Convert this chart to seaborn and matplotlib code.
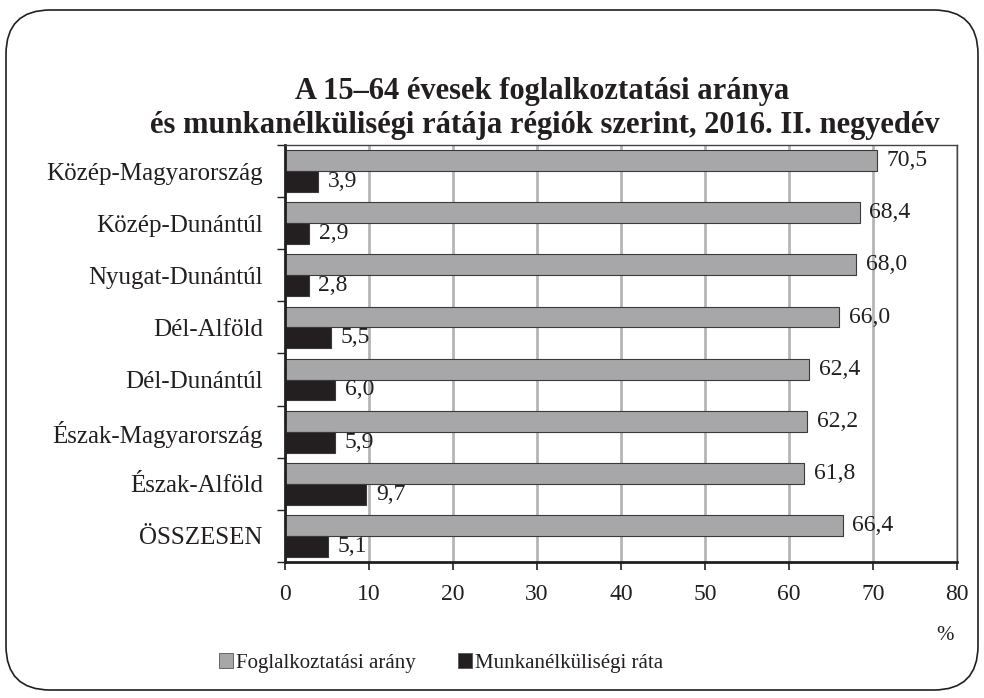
import pandas as pd
import matplotlib.pyplot as plt
import seaborn as sns
from matplotlib.patches import FancyBboxPatch, Patch

# adatok
regions = ["Közép-Magyarország", "Közép-Dunántúl", "Nyugat-Dunántúl", "Dél-Alföld",
           "Dél-Dunántúl", "Észak-Magyarország", "Észak-Alföld", "ÖSSZESEN"]
employment = [70.5, 68.4, 68.0, 66.0, 62.4, 62.2, 61.8, 66.4]
unemployment = [3.9, 2.9, 2.8, 5.5, 6.0, 5.9, 9.7, 5.1]
series_names = ["Foglalkoztatási arány", "Munkanélküliségi ráta"]
x_ticks = [0, 10, 20, 30, 40, 50, 60, 70, 80]

df = pd.DataFrame({
    "region": regions * 2,
    "value": employment + unemployment,
    "series": [series_names[0]] * len(regions) + [series_names[1]] * len(regions),
})

sns.set_theme(style="white")
plt.rcParams["font.family"] = ["Liberation Serif", "DejaVu Serif"]

colors = {series_names[0]: "#a7a7a9", series_names[1]: "#231f20"}
txt = "#231f20"

fig = plt.figure(figsize=(9.84, 6.98), dpi=100)
ax = fig.add_axes([285 / 984, 1 - 562 / 698, (957 - 285) / 984, (562 - 145) / 698])

sns.barplot(data=df, y="region", x="value", hue="series", order=regions,
            hue_order=series_names, palette=colors, orient="h", width=0.8,
            edgecolor="#3a3a3a", linewidth=0.8, saturation=1, legend=False, ax=ax)

# értékcímkék
for cont in ax.containers:
    labels = [f"{v:.1f}".replace(".", ",") for v in cont.datavalues]
    ax.bar_label(cont, labels=labels, padding=7, fontsize=17, color=txt)

ax.set_xlim(0, 80)
ax.set_xticks(x_ticks)
ax.set_xticklabels([str(t) for t in x_ticks], fontsize=17, color=txt)
ax.set_ylabel("")
ax.set_xlabel("")
ax.tick_params(axis="y", labelsize=18, colors=txt, length=0, pad=16)
ax.tick_params(axis="x", length=6, width=1.2, color=txt, pad=10, bottom=True)

# kis osztásjelek a kategóriák között
ax.set_yticks([i - 0.5 for i in range(len(regions) + 1)], minor=True)
ax.tick_params(axis="y", which="minor", length=6, width=1, color=txt, left=True)

ax.grid(axis="x", color="#b5b5b7", linewidth=2)
ax.set_axisbelow(True)
for side in ["top", "right"]:
    ax.spines[side].set_color("#444444")
    ax.spines[side].set_linewidth(1)
for side in ["left", "bottom"]:
    ax.spines[side].set_color(txt)
    ax.spines[side].set_linewidth(2)

fig.text(542 / 984, 1 - 92 / 698, "A 15–64 évesek foglalkoztatási aránya",
         ha="center", va="center", fontsize=22, fontweight="bold", color=txt)
fig.text(545 / 984, 1 - 125 / 698,
         "és munkanélküliségi rátája régiók szerint, 2016. II. negyedév",
         ha="center", va="center", fontsize=22, fontweight="bold", color=txt)
fig.text(945 / 984, 1 - 635 / 698, "%", ha="center", va="center",
         fontsize=15, color=txt)

handles = [Patch(facecolor=colors[s], edgecolor="#555555", linewidth=0.6) for s in series_names]
fig.legend(handles, series_names, loc="center", bbox_to_anchor=(441 / 984, 1 - 663 / 698),
           ncol=2, frameon=False, fontsize=15, handlelength=0.7, handleheight=0.7,
           handletextpad=0.15, columnspacing=2.0, labelcolor=txt)

border = FancyBboxPatch((6 / 984, 8 / 698), 972 / 984, 680 / 698,
                        boxstyle="round,pad=0,rounding_size=0.045",
                        transform=fig.transFigure, facecolor="none",
                        edgecolor=txt, linewidth=1.2, mutation_aspect=984 / 698)
fig.add_artist(border)

fig.savefig("out.png", dpi=100)
